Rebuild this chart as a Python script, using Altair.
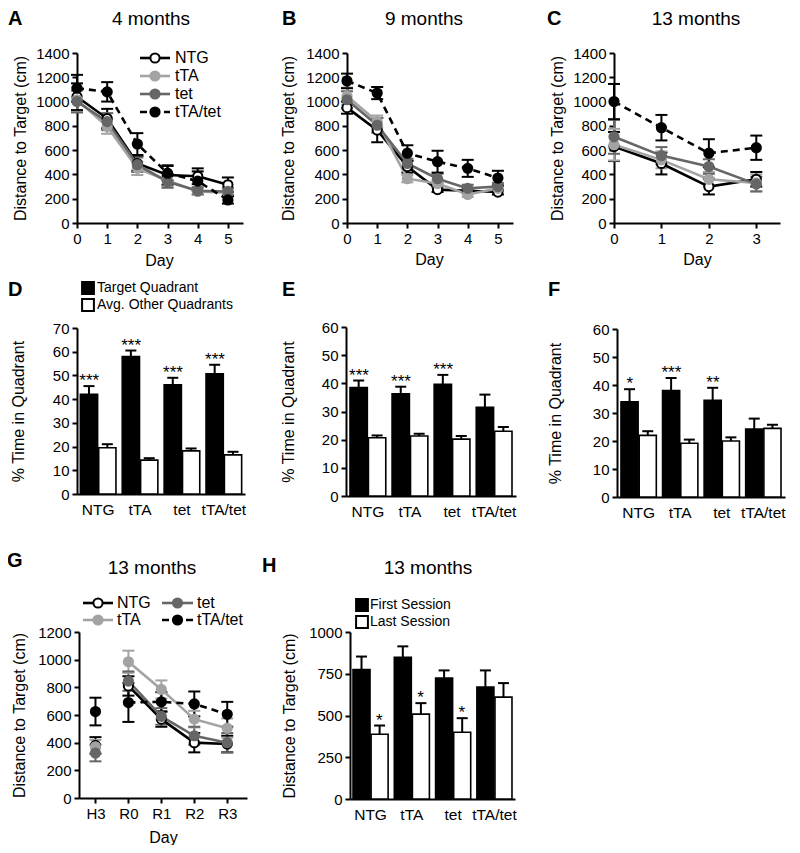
import altair as alt
import pandas as pd

W, H = 784, 837
FONT = "Liberation Sans"

SERIES = ["NTG", "tTA", "tet", "tTA/tet"]
LINE_COLOR = {"NTG": "#000000", "tTA": "#a3a3a3", "tet": "#666666", "tTA/tet": "#000000"}
FILL_COLOR = {"NTG": "#ffffff", "tTA": "#a3a3a3", "tet": "#666666", "tTA/tet": "#000000"}

# ---- Panel A: 4 months ----
A_DAYS = [0, 1, 2, 3, 4, 5]
A_MEAN = {
    "NTG": [1040, 860, 490, 395, 385, 315],
    "tTA": [1015, 795, 450, 350, 260, 250],
    "tet": [1000, 835, 480, 340, 265, 260],
    "tTA/tet": [1110, 1080, 650, 410, 345, 190],
}
A_SEM = {
    "NTG": [110, 80, 60, 80, 65, 60],
    "tTA": [100, 60, 55, 50, 25, 25],
    "tet": [90, 70, 60, 50, 30, 30],
    "tTA/tet": [110, 80, 90, 60, 80, 30],
}

# ---- Panel B: 9 months ----
B_DAYS = [0, 1, 2, 3, 4, 5]
B_MEAN = {
    "NTG": [950, 765, 465, 275, 265, 255],
    "tTA": [1045, 835, 365, 325, 235, 285],
    "tet": [1015, 805, 490, 365, 285, 300],
    "tTA/tet": [1170, 1070, 575, 505, 450, 370],
}
B_SEM = {
    "NTG": [50, 100, 50, 20, 20, 20],
    "tTA": [70, 50, 30, 30, 20, 20],
    "tet": [70, 60, 40, 40, 30, 30],
    "tTA/tet": [60, 50, 65, 90, 70, 60],
}

# ---- Panel C: 13 months ----
C_DAYS = [0, 1, 2, 3]
C_MEAN = {
    "NTG": [630, 490, 300, 360],
    "tTA": [645, 520, 360, 330],
    "tet": [710, 555, 465, 320],
    "tTA/tet": [1000, 785, 575, 620],
}
C_SEM = {
    "NTG": [120, 90, 65, 60],
    "tTA": [130, 70, 60, 70],
    "tet": [140, 70, 60, 60],
    "tTA/tet": [145, 105, 115, 100],
}

# ---- Panel G: 13 months, H3 and reversal days ----
G_POS = [0, 1, 2, 3, 4]
G_LABELS = ["H3", "R0", "R1", "R2", "R3"]
G_MEAN = {
    "NTG": [380, 810, 570, 400, 390],
    "tTA": [370, 985, 785, 570, 505],
    "tet": [325, 845, 590, 450, 400],
    "tTA/tet": [625, 690, 695, 680, 605],
}
G_SEM = {
    "NTG": [60, 70, 55, 70, 60],
    "tTA": [50, 80, 65, 60, 70],
    "tet": [60, 70, 60, 65, 70],
    "tTA/tet": [100, 140, 70, 90, 90],
}

# ---- Bar panels ----
GROUPS = ["NTG", "tTA", "tet", "tTA/tet"]
QUAD_KINDS = ["Target Quadrant", "Avg. Other Quadrants"]

D_TARGET = [42, 58, 46, 50.7]
D_TARGET_SEM = [3.5, 2.5, 3, 3.8]
D_OTHER = [19.5, 14.3, 18.2, 16.5]
D_OTHER_SEM = [1.5, 0.8, 1.0, 1.3]
D_STARS = ["***", "***", "***", "***"]

E_TARGET = [38.5, 36.3, 39.7, 31.5]
E_TARGET_SEM = [2.5, 2.5, 3.3, 4.5]
E_OTHER = [20.7, 21.3, 20.2, 23.0]
E_OTHER_SEM = [0.8, 0.8, 1.1, 1.5]
E_STARS = ["***", "***", "***", ""]

F_TARGET = [34, 38, 34.5, 24.3]
F_TARGET_SEM = [4.5, 4.5, 4.5, 3.7]
F_OTHER = [22, 19.2, 20, 24.5]
F_OTHER_SEM = [1.5, 1.3, 1.3, 1.3]
F_STARS = ["*", "***", "**", ""]

SESSION_KINDS = ["First Session", "Last Session"]
H_FIRST = [775, 848, 724, 670]
H_FIRST_SEM = [78, 66, 46, 100]
H_LAST = [388, 508, 400, 610]
H_LAST_SEM = [52, 66, 84, 84]
H_STARS = ["*", "*", "*", ""]


def px(v):
    return v - 8


ONE = pd.DataFrame({"k": [0]})


def line_panel(xv, mean, sem, xdom, xr, ydom, yr, yticks, xticks,
               ytitle_cx, xtitle_cx, xtitle_cy, label_expr=None, connect_min=None):
    rows = []
    for s in SERIES:
        for x, m, e in zip(xv, mean[s], sem[s]):
            rows.append({"x": x, "series": s, "mean": m, "lo": m - e, "hi": m + e,
                         "stroke": LINE_COLOR[s], "fill": FILL_COLOR[s],
                         "dashed": s == "tTA/tet"})
    df = pd.DataFrame(rows)
    xs = alt.Scale(domain=xdom, range=[px(xr[0]), px(xr[1])], nice=False, zero=False)
    ys = alt.Scale(domain=ydom, range=[px(yr[0]), px(yr[1])], nice=False, zero=False)
    xkw = dict(orient="bottom", offset=px(yr[0]) - H, values=xticks, title="Day",
               titleX=px(xtitle_cx), titleY=xtitle_cy - yr[0], titleBaseline="middle",
               labelFlush=False, labelOverlap=False, grid=False, format="d")
    if label_expr:
        xkw["labelExpr"] = label_expr
    xaxis = alt.Axis(**xkw)
    yaxis = alt.Axis(orient="left", offset=-px(xr[0]), values=yticks,
                     title="Distance to Target (cm)", titleX=ytitle_cx - xr[0],
                     titleY=px((yr[0] + yr[1]) / 2), titleBaseline="middle",
                     titleAngle=270, titleAlign="center", labelFlush=False,
                     labelOverlap=False, grid=False, format="d")
    base = alt.Chart(df)
    X0 = alt.X("x:Q", scale=xs, axis=None)
    stroke = alt.Stroke("stroke:N", scale=None, legend=None)
    err = base.mark_rule(strokeWidth=2).encode(
        x=alt.X("x:Q", scale=xs, axis=xaxis),
        y=alt.Y("lo:Q", scale=ys, axis=yaxis),
        y2="hi:Q", stroke=stroke)
    caps = base.transform_fold(["lo", "hi"], as_=["end", "yy"]).mark_tick(
        orient="horizontal", size=12, thickness=2, opacity=1).encode(
        x=X0, y=alt.Y("yy:Q", scale=ys, axis=None),
        color=alt.Color("stroke:N", scale=None, legend=None))
    lb = base
    if connect_min is not None:
        lb = base.transform_filter(f"datum.x >= {connect_min}")
    solid = lb.transform_filter("!datum.dashed").mark_line(strokeWidth=2.6).encode(
        x=X0, y=alt.Y("mean:Q", scale=ys, axis=None), detail="series:N", stroke=stroke)
    dashed = lb.transform_filter("datum.dashed").mark_line(
        strokeWidth=2.6, strokeDash=[7, 5]).encode(
        x=X0, y=alt.Y("mean:Q", scale=ys, axis=None), stroke=stroke)
    pts = base.mark_point(shape="circle", filled=True, size=85, strokeWidth=2,
                          opacity=1).encode(
        x=X0, y=alt.Y("mean:Q", scale=ys, axis=None),
        fill=alt.Fill("fill:N", scale=None, legend=None), stroke=stroke)
    return [err, caps, solid, dashed, pts]


def bar_panel(kinds, v1, s1, v2, s2, stars1, stars2, xr, pad_outer,
              ydom, yr, yticks, ytitle, ytitle_cx):
    rows = []
    for i, g in enumerate(GROUPS):
        rows.append({"g": g, "k": kinds[0], "v": v1[i], "hi": v1[i] + s1[i],
                     "fill": "#000000", "star": stars1[i]})
        rows.append({"g": g, "k": kinds[1], "v": v2[i], "hi": v2[i] + s2[i],
                     "fill": "#ffffff", "star": stars2[i]})
    df = pd.DataFrame(rows)
    xs = alt.Scale(domain=GROUPS, range=[px(xr[0]), px(xr[1])],
                   paddingInner=0.15, paddingOuter=pad_outer)
    xo = alt.Scale(domain=kinds, paddingInner=0.06)
    ys = alt.Scale(domain=ydom, range=[px(yr[0]), px(yr[1])], nice=False, zero=False)
    xaxis = alt.Axis(orient="bottom", offset=px(yr[0]) - H, ticks=False, title="",
                     labelAngle=0, labelPadding=8, labelOverlap=False, grid=False,
                     labelFontSize=15.5)
    yaxis = alt.Axis(orient="left", offset=-px(xr[0]), values=yticks, title=ytitle,
                     titleX=ytitle_cx - xr[0], titleY=px((yr[0] + yr[1]) / 2),
                     titleBaseline="middle", titleAngle=270, titleAlign="center",
                     labelOverlap=False, grid=False, format="d")
    base = alt.Chart(df)
    X0 = alt.X("g:N", scale=xs, axis=None)
    XO = alt.XOffset("k:N", scale=xo)
    bars = base.mark_bar(stroke="black", strokeWidth=1.6).encode(
        x=alt.X("g:N", scale=xs, axis=xaxis), xOffset=XO,
        y=alt.Y("v:Q", scale=ys, axis=yaxis),
        fill=alt.Fill("fill:N", scale=None, legend=None))
    err = base.mark_rule(color="black", strokeWidth=2).encode(
        x=X0, xOffset=XO, y=alt.Y("v:Q", scale=ys, axis=None), y2="hi:Q")
    cap = base.mark_tick(orient="horizontal", size=11, thickness=2, color="black",
                         opacity=1).encode(
        x=X0, xOffset=XO, y=alt.Y("hi:Q", scale=ys, axis=None))
    stars = base.mark_text(font=FONT, fontSize=17, baseline="alphabetic",
                           color="black").encode(
        x=X0, xOffset=XO, y=alt.Y("hi:Q", scale=ys, axis=None), text="star:N")
    return [bars, err, cap, stars]


def py_(y):
    return y - 8


def label(text, x, y, size, bold=False, align="center", baseline="middle"):
    return alt.Chart(ONE).mark_text(
        text=text, font=FONT, fontSize=size, fontWeight="bold" if bold else "normal",
        align=align, baseline=baseline, color="black").encode(
        x=alt.value(px(x)), y=alt.value(py_(y)))


def line_legend(s, x0, x1, y, tx):
    kw = dict(color=LINE_COLOR[s], strokeWidth=2.6)
    if s == "tTA/tet":
        kw["strokeDash"] = [7, 5]
    rule = alt.Chart(ONE).mark_rule(**kw).encode(
        x=alt.value(px(x0)), x2=alt.value(px(x1)), y=alt.value(py_(y)))
    pt = alt.Chart(ONE).mark_point(shape="circle", filled=True, size=85, strokeWidth=2,
                                   opacity=1, fill=FILL_COLOR[s],
                                   stroke=LINE_COLOR[s]).encode(
        x=alt.value(px((x0 + x1) / 2)), y=alt.value(py_(y)))
    return [rule, pt, label(s, tx, y, 16, align="left")]


def square_legend(text, fill, x, y, tx):
    sq = alt.Chart(ONE).mark_point(shape="square", filled=True, size=140, strokeWidth=2,
                                   opacity=1, fill=fill, stroke="black").encode(
        x=alt.value(px(x)), y=alt.value(py_(y)))
    return [sq, label(text, tx, y, 14, align="left")]


layers = []
dist_ticks_14 = list(range(0, 1401, 200))
layers += line_panel(A_DAYS, A_MEAN, A_SEM, [0, 5.5], [77, 243], [0, 1400], [223, 53],
                     dist_ticks_14, A_DAYS, 20, 159, 260)
layers += line_panel(B_DAYS, B_MEAN, B_SEM, [0, 5.5], [347, 513], [0, 1400], [223, 53],
                     dist_ticks_14, B_DAYS, 288, 429, 259)
layers += line_panel(C_DAYS, C_MEAN, C_SEM, [0, 3.5], [614, 780], [0, 1400], [223, 53],
                     dist_ticks_14, C_DAYS, 557, 697, 259)
g_expr = "[" + ",".join(f"'{l}'" for l in G_LABELS) + "][datum.value]"
layers += line_panel(G_POS, G_MEAN, G_SEM, [-0.5, 4.6], [79, 247], [0, 1200], [798, 632],
                     list(range(0, 1201, 200)), G_POS, 19, 163, 837,
                     label_expr=g_expr, connect_min=1)

layers += bar_panel(QUAD_KINDS, D_TARGET, D_TARGET_SEM, D_OTHER, D_OTHER_SEM,
                    D_STARS, [""] * 4, [77, 245], 0.08, [0, 70], [494, 328],
                    list(range(0, 71, 10)), "% Time in Quadrant", 18)
layers += bar_panel(QUAD_KINDS, E_TARGET, E_TARGET_SEM, E_OTHER, E_OTHER_SEM,
                    E_STARS, [""] * 4, [346, 516], 0.095, [0, 60], [496, 327],
                    list(range(0, 61, 10)), "% Time in Quadrant", 288)
layers += bar_panel(QUAD_KINDS, F_TARGET, F_TARGET_SEM, F_OTHER, F_OTHER_SEM,
                    F_STARS, [""] * 4, [617, 785], 0.096, [0, 60], [497, 329],
                    list(range(0, 61, 10)), "% Time in Quadrant", 555)
layers += bar_panel(SESSION_KINDS, H_FIRST, H_FIRST_SEM, H_LAST, H_LAST_SEM,
                    [""] * 4, H_STARS, [350, 515], 0.073, [0, 1000], [799, 632],
                    [0, 250, 500, 750, 1000], "Distance to Target (cm)", 289)

# panel letters and titles
layers += [
    label("A", 8, 25, 20, bold=True, align="left", baseline="alphabetic"),
    label("4 months", 151, 25, 19, baseline="alphabetic"),
    label("B", 282, 25, 20, bold=True, align="left", baseline="alphabetic"),
    label("9 months", 424, 25, 19, baseline="alphabetic"),
    label("C", 547, 25, 20, bold=True, align="left", baseline="alphabetic"),
    label("13 months", 696, 25, 19, baseline="alphabetic"),
    label("D", 8, 296, 20, bold=True, align="left", baseline="alphabetic"),
    label("E", 282, 296, 20, bold=True, align="left", baseline="alphabetic"),
    label("F", 548, 296, 20, bold=True, align="left", baseline="alphabetic"),
    label("G", 7, 567, 20, bold=True, align="left", baseline="alphabetic"),
    label("13 months", 152, 574, 19, baseline="alphabetic"),
    label("H", 262, 572, 20, bold=True, align="left", baseline="alphabetic"),
    label("13 months", 428, 574, 19, baseline="alphabetic"),
]

# legends
for s, y in zip(SERIES, [58, 76, 94, 112]):
    layers += line_legend(s, 140, 170, y, 175)
for s, (x0, x1, y, tx) in zip(SERIES, [(83, 113, 603, 117), (83, 113, 620, 117),
                                       (162, 193, 603, 197), (162, 193, 620, 197)]):
    layers += line_legend(s, x0, x1, y, tx)
layers += square_legend(QUAD_KINDS[0], "#000000", 88, 288, 97)
layers += square_legend(QUAD_KINDS[1], "#ffffff", 88, 305, 97)
layers += square_legend(SESSION_KINDS[0], "#000000", 362, 605, 370)
layers += square_legend(SESSION_KINDS[1], "#ffffff", 362, 622, 370)

chart = alt.layer(*layers).resolve_scale(
    x="independent", y="independent", xOffset="independent"
).resolve_axis(x="independent", y="independent").properties(
    width=W, height=H, padding=0, autosize=alt.AutoSizeParams(type="none")
).configure_view(stroke=None).configure_axis(
    domainColor="black", domainWidth=2, tickColor="black", tickWidth=2, tickSize=5,
    labelColor="black", labelFont=FONT, labelFontSize=15, labelPadding=3,
    titleFont=FONT, titleFontSize=16, titleFontWeight="normal", titleColor="black",
    grid=False
)

chart.save("out.html", embed_options={"renderer": "svg", "actions": False})
